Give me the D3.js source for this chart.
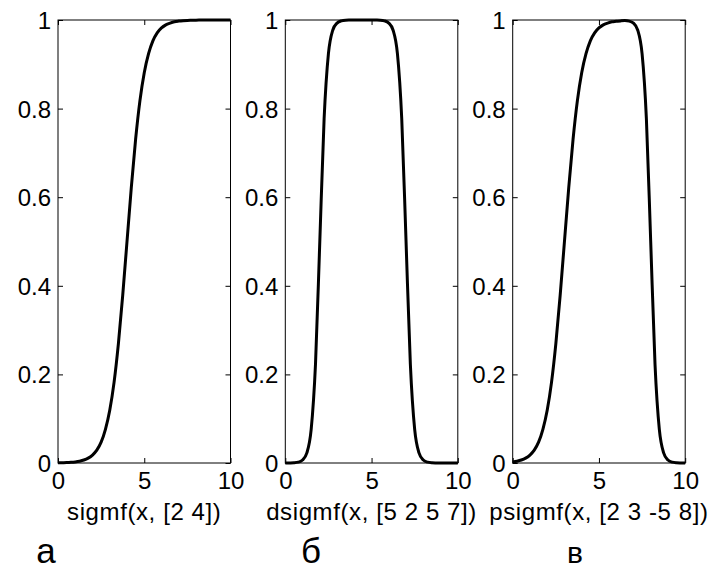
<!DOCTYPE html>
<html>
<head>
<meta charset="utf-8" />
<title></title>
<style>
  body { margin: 0; background: #fff; }
  text { font-family: "Liberation Sans", Arial, sans-serif; fill: #000; }
  .curve { fill: none; stroke: #000; stroke-width: 3px; stroke-linejoin: round; }
  .box { fill: none; stroke: #000; stroke-width: 1px; }
  .tick line { stroke: #000; }
</style>
</head>
<body>
<script src="https://d3js.org/d3.v7.min.js"></script>
<script>
var width = 708, height = 569;

// sample points along x (0..10, step 0.25)
var xs = [0,0.25,0.5,0.75,1,1.25,1.5,1.75,2,2.25,2.5,2.75,3,3.25,3.5,3.75,4,4.25,4.5,4.75,5,
          5.25,5.5,5.75,6,6.25,6.5,6.75,7,7.25,7.5,7.75,8,8.25,8.5,8.75,9,9.25,9.5,9.75,10];

// sigmf(x, [2 4])
var sigmfY = [0.0003,0.0006,0.0009,0.0015,0.0025,0.0041,0.0067,0.011,0.018,0.029,0.047,0.076,0.119,0.182,0.269,0.378,0.5,
              0.622,0.731,0.818,0.881,0.924,0.953,0.971,0.982,0.989,0.993,0.996,0.9975,0.9985,0.9991,0.9994,0.9997,
              0.9998,0.9999,0.9999,1,1,1,1,1];
// dsigmf(x, [5 2 5 7])
var dsigmfY = [0,0.0002,0.0006,0.0019,0.0067,0.023,0.076,0.223,0.5,0.777,0.924,0.977,0.993,0.998,0.9995,0.9998,1,
               1,1,1,1,0.9998,0.9995,0.998,0.993,0.977,0.924,0.777,0.5,0.223,0.076,0.023,0.0067,0.0019,0.0006,
               0.0002,0,0,0,0,0];
// psigmf(x, [2 3 -5 8])
var psigmfY = [0.0025,0.0041,0.0067,0.011,0.018,0.029,0.047,0.076,0.119,0.182,0.269,0.378,0.5,0.622,0.731,0.818,0.881,
               0.924,0.953,0.971,0.982,0.989,0.993,0.996,0.997,0.998,0.9986,0.9975,0.993,0.977,0.924,0.777,0.5,
               0.223,0.076,0.023,0.0067,0.0019,0.0006,0.0002,0];

var xTicks = [0, 5, 10];
var yTicks = [0, 0.2, 0.4, 0.6, 0.8, 1];
var xLabels = ["sigmf(x, [2 4])", "dsigmf(x, [5 2 5 7])", "psigmf(x, [2 3 -5 8])"];
var panelLetters = ["а", "б", "в"];

var panels = [
  {y: sigmfY, left: 58},
  {y: dsigmfY, left: 285.3},
  {y: psigmfY, left: 512.7}
];

var axTop = 20, axBottom = 463, axW = 172.5, tick = 5;

var svg = d3.select("body").append("svg")
    .attr("width", width)
    .attr("height", height);

var yScale = d3.scaleLinear().domain([0, 1]).range([axBottom, axTop]);

panels.forEach(function(p, i) {
  var x = d3.scaleLinear().domain([0, 10]).range([p.left, p.left + axW]);
  var g = svg.append("g");

  // inside ticks on all four sides
  g.append("g").attr("transform", "translate(0," + axBottom + ")")
    .call(d3.axisBottom(x).tickValues(xTicks).tickSizeInner(-tick).tickSizeOuter(0))
    .call(function(a) {
      a.select(".domain").remove();
      a.selectAll("text").attr("font-size", 24).attr("y", 9).attr("dy", "0.71em");
    });
  g.append("g").attr("transform", "translate(0," + axTop + ")")
    .call(d3.axisTop(x).tickValues(xTicks).tickSizeInner(-tick).tickSizeOuter(0).tickFormat(""))
    .call(function(a) { a.select(".domain").remove(); });
  g.append("g").attr("transform", "translate(" + p.left + ",0)")
    .call(d3.axisLeft(yScale).tickValues(yTicks).tickSizeInner(-tick).tickSizeOuter(0)
      .tickFormat(d3.format("~g")))
    .call(function(a) {
      a.select(".domain").remove();
      a.selectAll("text").attr("font-size", 24).attr("x", -7).attr("dy", "0.35em");
    });
  g.append("g").attr("transform", "translate(" + (p.left + axW) + ",0)")
    .call(d3.axisRight(yScale).tickValues(yTicks).tickSizeInner(-tick).tickSizeOuter(0).tickFormat(""))
    .call(function(a) { a.select(".domain").remove(); });

  g.append("rect").attr("class", "box")
    .attr("x", p.left).attr("y", axTop)
    .attr("width", axW).attr("height", axBottom - axTop);

  var line = d3.line()
    .x(function(d, j) { return x(xs[j]); })
    .y(function(d) { return yScale(d); })
    .curve(d3.curveMonotoneX);

  g.append("path").datum(p.y).attr("class", "curve").attr("d", line);

  g.append("text")
    .attr("x", p.left + axW / 2).attr("y", 520)
    .attr("text-anchor", "middle")
    .attr("font-size", 24)
    .attr("letter-spacing", 0.6)
    .text(xLabels[i]);

  g.append("text")
    .attr("x", [46, 311, 575][i]).attr("y", 563)
    .attr("text-anchor", "middle")
    .attr("font-size", i == 2 ? 30 : 35)
    .text(panelLetters[i]);
});
</script>
</body>
</html>
